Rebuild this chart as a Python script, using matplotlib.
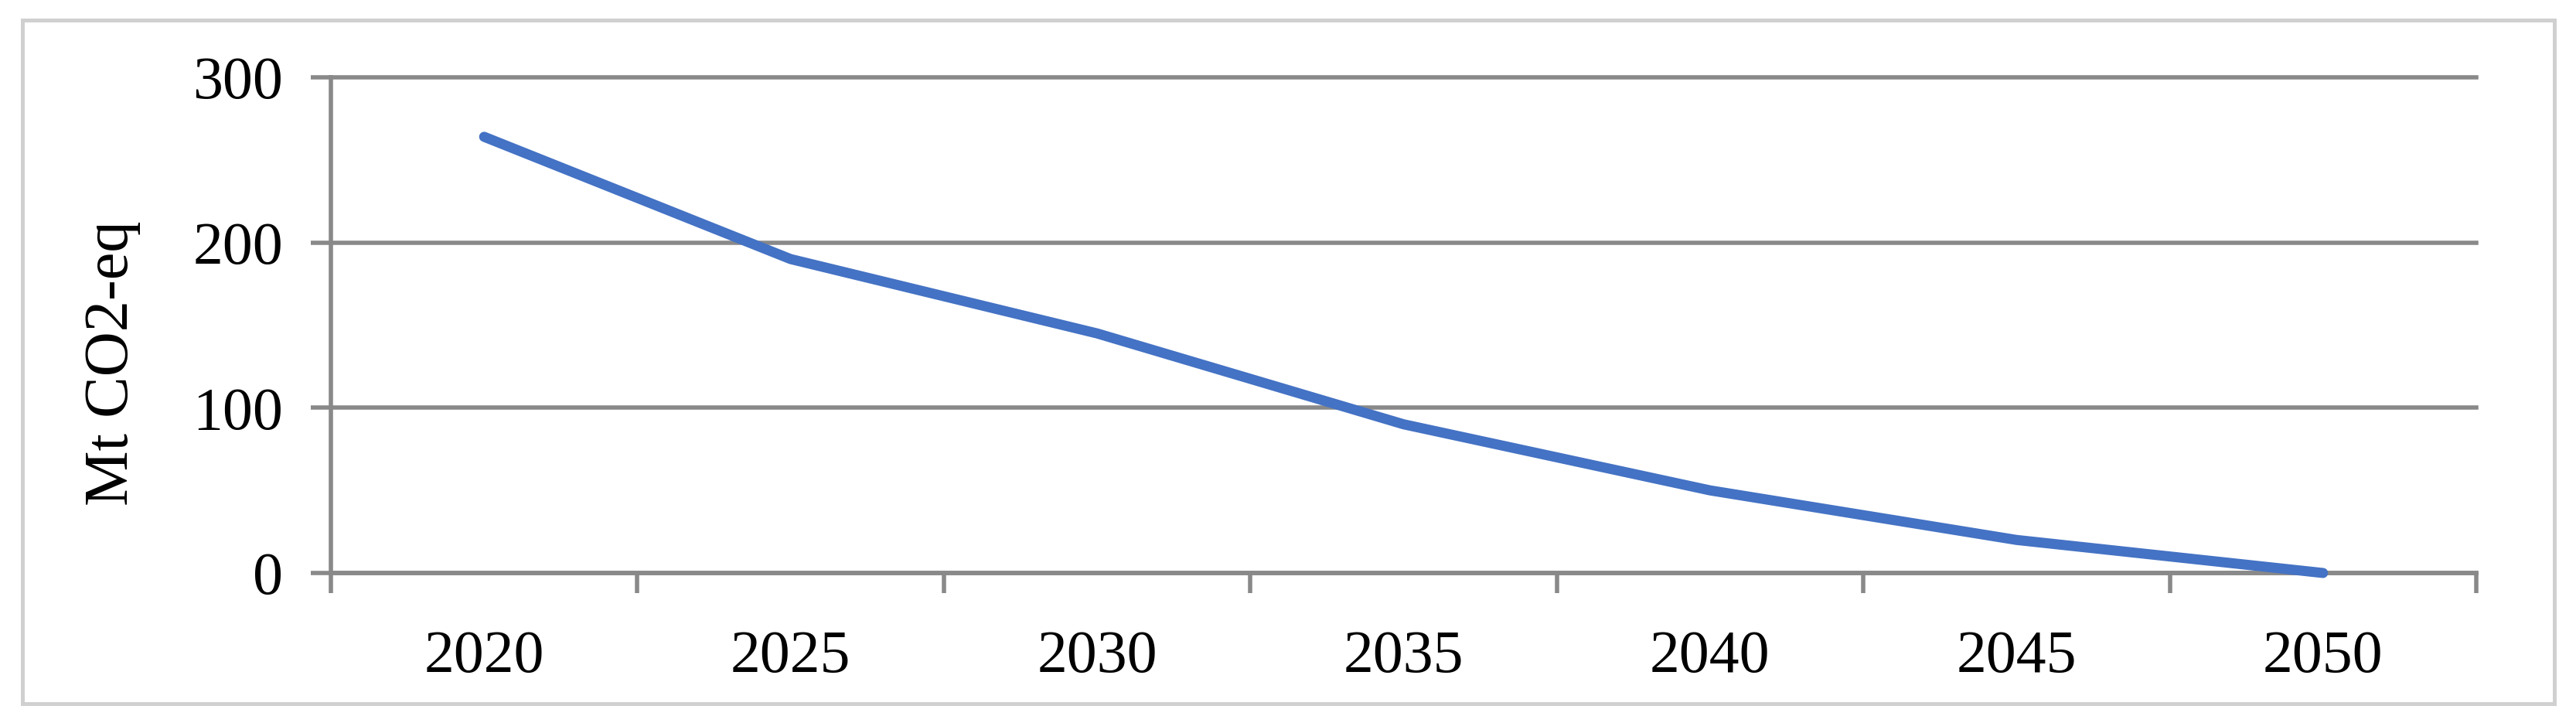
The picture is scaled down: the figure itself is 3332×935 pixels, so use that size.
import matplotlib
matplotlib.use("Agg")
import matplotlib.pyplot as plt
from matplotlib.patches import Rectangle
import numpy as np

years = ["2020", "2025", "2030", "2035", "2040", "2045", "2050"]
emissions = [264, 190, 145, 90, 50, 20, 0]
y_ticks = [0, 100, 200, 300]
y_label = "Mt CO2-eq"

W, H, DPI = 3332, 935, 100
fig = plt.figure(figsize=(W / DPI, H / DPI), dpi=DPI)
fig.patch.set_facecolor("white")

plt.rcParams["font.family"] = ["Liberation Serif", "DejaVu Serif"]
FS = 56

# outer chart border
fig.patches.append(Rectangle((28.5 / W, 1 - 909.5 / H), (3303.5 - 28.5) / W, (909.5 - 25.5) / H,
                             transform=fig.transFigure, fill=False,
                             edgecolor="#d0d0d0", linewidth=3.6, zorder=0))

ax = fig.add_axes([428 / W, 1 - 741 / H, (3203 - 428) / W, (741 - 100) / H])
grid_c = "#898989"
lw_grid = 4.0

x = np.arange(len(years))
ax.plot(x, emissions, color="#4472C4", linewidth=9.4, solid_capstyle="round",
        solid_joinstyle="round", zorder=3, clip_on=False)

ax.set_xlim(-0.5, len(years) - 0.5)
ax.set_ylim(0, 300)

# y gridlines
ax.set_yticks(y_ticks)
ax.set_yticklabels([str(v) for v in y_ticks], fontsize=FS)
ax.yaxis.grid(True, color=grid_c, linewidth=lw_grid)
ax.tick_params(axis="y", direction="out", length=18.7, width=lw_grid, color=grid_c, pad=26)
for gl in ax.get_ygridlines():
    gl.set_clip_on(False)

# x ticks at boundaries, labels at centers
ax.set_xticks(np.arange(-0.5, len(years), 1.0))
ax.set_xticklabels([])
ax.set_xticks(x, minor=True)
ax.set_xticklabels(years, minor=True, fontsize=FS)
ax.tick_params(axis="x", which="major", direction="out", length=18.7, width=lw_grid, color=grid_c)
ax.tick_params(axis="x", which="minor", length=0, pad=53)

for s in ["top", "right"]:
    ax.spines[s].set_visible(False)
for s in ["left", "bottom"]:
    ax.spines[s].set_color(grid_c)
    ax.spines[s].set_linewidth(lw_grid)
ax.set_axisbelow(True)

fig.text(146 / W, 1 - 470 / H, y_label, rotation=90, ha="center", va="center", fontsize=FS + 2)

fig.savefig("out.png", dpi=DPI, facecolor="white")
